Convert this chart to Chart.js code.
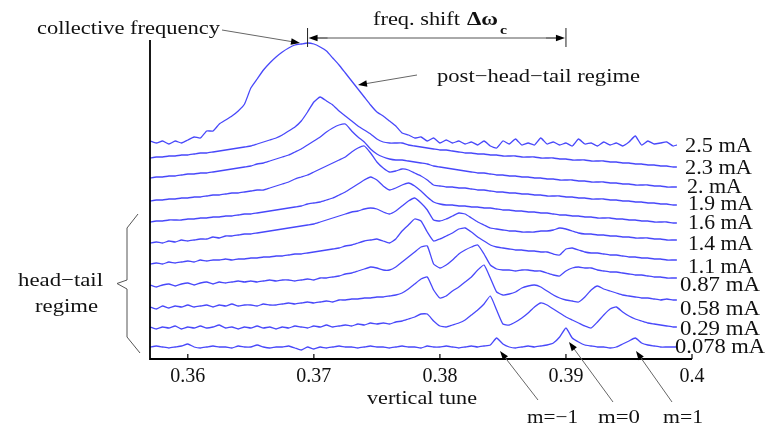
<!DOCTYPE html>
<html><head><meta charset="utf-8">
<script src="https://cdn.jsdelivr.net/npm/chart.js@4.4.1/dist/chart.umd.min.js"></script>
<style>html,body{margin:0;padding:0;background:#fff}canvas{display:block}</style>
</head><body>
<canvas id="c" width="775" height="427"></canvas>
<script>
// vertical tune sampling grid
const tune = [0.3570,0.3575,0.3580,0.3585,0.3590,0.3595,0.3600,0.3605,0.3610,0.3615,
0.3620,0.3625,0.3630,0.3635,0.3640,0.3645,0.3650,0.3655,0.3660,0.3665,
0.3670,0.3675,0.3680,0.3685,0.3690,0.3695,0.3700,0.3705,0.3710,0.3715,
0.3720,0.3725,0.3730,0.3735,0.3740,0.3745,0.3750,0.3755,0.3760,0.3765,
0.3770,0.3775,0.3780,0.3785,0.3790,0.3795,0.3800,0.3805,0.3810,0.3815,
0.3820,0.3825,0.3830,0.3835,0.3840,0.3845,0.3850,0.3855,0.3860,0.3865,
0.3870,0.3875,0.3880,0.3885,0.3890,0.3895,0.3900,0.3905,0.3910,0.3915,
0.3920,0.3925,0.3930,0.3935,0.3940,0.3945,0.3950,0.3955,0.3960,0.3965,
0.3970,0.3975,0.3980,0.3985,0.3988];

const currents = ['2.5 mA','2.3 mA','2. mA','1.9 mA','1.6 mA','1.4 mA','1.1 mA','0.87 mA','0.58 mA','0.29 mA','0.078 mA'];
const tickValues = [0.36,0.37,0.38,0.39,0.4];
const tickLabels = ['0.36','0.37','0.38','0.39','0.4'];

// stacked spectra (arbitrary units, offset per beam current)
const s25 = [218,216,218,215,218,216,219,222,221,228,228,235,239,243,248,255,271,280,289,296,
302,307,311,314,315,316,315,312,308,301,294,286,278,270,262,254,247,243,238,233,
226,224,221,222,218,221,216,219,216,218,215,217,214,218,213,211,218,215,220,214,
216,214,221,215,217,214,216,213,220,215,216,213,217,214,216,213,217,223,214,218,
215,216,217,213,214];
const s23 = [201,202,202,203,203,204,204,205,206,206,207,208,209,210,211,212,213,215,217,219,
221,224,228,232,238,247,257,262,258,254,248,243,238,233,229,225,220,217,216,216,
216,214,213,212,211,210,209,209,208,207,206,206,205,205,204,204,203,203,203,202,
202,202,201,201,201,200,200,199,199,199,198,198,198,197,197,196,196,195,195,194,
194,193,193,192,192];
const s20 = [181,182,182,183,183,184,185,185,186,186,187,188,189,190,191,192,193,195,196,198,
200,202,204,207,210,214,218,222,227,231,234,235,228,222,217,210,205,202,200,199,
199,198,197,196,195,193,192,191,190,189,188,187,186,186,185,184,184,183,183,182,
182,181,181,180,180,179,179,179,178,178,177,177,177,176,176,175,175,174,174,174,
173,173,172,172,172];
const s19 = [158,159,159,160,160,161,161,162,162,163,164,164,165,166,166,167,168,169,169,171,
173,175,177,180,182,184,187,190,193,196,199,202,207,211,213,206,197,191,187,188,
190,189,186,183,179,174,173,172,172,171,171,170,169,169,168,167,167,166,166,165,
165,164,164,163,163,163,162,162,161,161,160,160,160,159,159,158,158,157,157,156,
156,155,155,154,154];
const s16 = [137,138,138,139,139,139,140,140,141,141,142,142,143,143,144,145,145,146,147,148,
149,150,151,152,153,155,156,157,159,161,164,167,171,175,179,182,179,173,169,171,
174,176,173,168,162,157,155,154,154,153,153,152,152,151,151,150,149,149,148,148,
147,147,146,146,145,144,144,143,143,142,142,141,141,141,140,140,139,139,138,138,
137,137,137,136,136];
const s14 = [116,117,116,118,117,119,118,119,120,120,122,121,123,123,124,125,125,126,127,128,
129,130,131,132,133,134,135,137,139,141,143,145,147,148,150,151,150,147,145,148,
153,158,161,156,149,139,138,140,143,146,145,141,137,134,131,130,129,128,128,127,
127,127,128,128,129,131,130,128,126,125,125,124,124,123,123,122,122,121,121,121,
120,120,119,119,119];
const s11 = [95,96,95,97,96,97,98,97,99,98,99,99,100,99,100,100,101,101,102,102,
103,103,104,105,105,106,107,108,109,110,111,113,114,116,118,119,120,118,116,120,
128,134,140,138,127,118,120,123,126,130,131,127,122,118,114,112,111,110,109,109,
108,108,107,107,105,104,110,111,109,107,106,106,105,104,104,103,102,102,101,101,
100,100,99,99,99];
const s087 = [74,72,74,75,73,75,76,74,76,77,75,77,76,77,78,77,78,77,78,79,
78,79,79,78,79,80,79,81,81,82,83,85,86,88,90,92,91,89,89,92,
97,102,107,112,113,95,91,94,99,105,109,112,114,105,94,90,89,89,88,89,
89,88,88,86,84,83,88,91,92,91,91,89,88,87,87,86,85,84,84,83,
82,82,81,81,81];
const s058 = [52,50,53,51,53,52,54,52,53,54,52,54,53,55,53,54,54,53,55,54,
54,55,56,55,56,57,56,57,58,57,59,59,60,60,61,61,62,62,63,64,
66,70,75,80,82,69,61,63,68,72,77,82,89,94,81,67,64,65,67,71,
73,74,72,68,64,61,59,58,57,62,69,73,70,68,66,64,63,62,61,61,
60,59,60,59,59];
const s029 = [32,30,32,31,33,30,32,31,33,31,32,34,31,32,30,32,31,33,31,32,
30,32,31,33,32,31,33,32,34,32,33,34,33,35,34,36,35,36,35,37,
38,40,42,45,45,38,33,32,34,36,39,44,49,55,63,49,35,34,37,41,
46,52,56,54,50,46,42,39,36,33,31,37,44,50,52,47,43,40,38,36,
35,34,33,32,32];
const s0078 = [12,13,12,11,12,13,15,12,11,12,13,12,12,11,13,12,12,14,12,11,
12,12,13,11,9,12,10,12,11,12,13,12,12,11,12,13,12,12,11,12,
13,12,12,11,13,12,12,13,12,11,12,13,12,13,14,21,15,12,11,12,
13,12,13,14,16,22,31,21,17,14,13,12,12,11,12,15,18,21,16,14,
13,12,12,12,12];
const series = [s25,s23,s20,s19,s16,s14,s11,s087,s058,s029,s0078];

// annotation anchors in tune units
const collectiveTune = 0.3695;
const shiftEndTune = 0.39;

const FONT = '"Liberation Serif", "Times New Roman", Times, serif';

function fitText(ctx, txt, x1, x2, base, size, weight) {
  ctx.save();
  ctx.font = (weight || 'normal') + ' ' + size + 'px ' + FONT;
  const w = ctx.measureText(txt).width;
  ctx.translate(x1, base);
  ctx.scale((x2 - x1) / w, 1);
  ctx.textAlign = 'left';
  ctx.textBaseline = 'alphabetic';
  ctx.fillStyle = '#111';
  ctx.fillText(txt, 0, 0);
  ctx.restore();
}
function arrow(ctx, x1, y1, x2, y2) {
  const ang = Math.atan2(y2 - y1, x2 - x1), len = 9, wid = 3.2;
  const c = Math.cos(ang), s = Math.sin(ang);
  ctx.beginPath(); ctx.moveTo(x1, y1); ctx.lineTo(x2 - len * c * 0.7, y2 - len * s * 0.7); ctx.stroke();
  ctx.beginPath(); ctx.moveTo(x2, y2);
  ctx.lineTo(x2 - len * c + wid * s, y2 - len * s - wid * c);
  ctx.lineTo(x2 - len * c - wid * s, y2 - len * s + wid * c);
  ctx.closePath(); ctx.fill();
}

const labelLayout = [
  [685,752,151.5],[685,752,174],[687,742,192.7],[688,753,210],[688,753,229],[688,753,250],
  [688,753,272.7],[680,760,290.7],[680,760,315],[680,760,335],[675,765,353]
];

const annot = {
  id: 'annot',
  afterDraw(chart) {
    const ctx = chart.ctx, a = chart.chartArea, xs = chart.scales.x;
    ctx.save();
    // axes
    ctx.strokeStyle = '#000'; ctx.lineWidth = 1.8;
    ctx.beginPath(); ctx.moveTo(a.left, a.top); ctx.lineTo(a.left, a.bottom); ctx.lineTo(a.right, a.bottom); ctx.stroke();
    ctx.lineWidth = 1.2;
    tickValues.forEach(v => { const p = xs.getPixelForValue(v); ctx.beginPath(); ctx.moveTo(p, a.bottom); ctx.lineTo(p, a.bottom - 5); ctx.stroke(); });

    // current labels
    currents.forEach((t, i) => { const L = labelLayout[i]; fitText(ctx, t, L[0], L[1], L[2], 20); });

    // axis title
    fitText(ctx, 'vertical tune', 367, 477, 404, 18.5);

    // collective frequency
    fitText(ctx, 'collective frequency', 37, 220, 34, 18.6);
    ctx.strokeStyle = '#666'; ctx.fillStyle = '#000'; ctx.lineWidth = 1;
    arrow(ctx, 222, 30, 300, 43);

    // freq shift
    const xl = xs.getPixelForValue(collectiveTune), xr = xs.getPixelForValue(shiftEndTune);
    ctx.strokeStyle = '#222';
    ctx.beginPath(); ctx.moveTo(xl, 28); ctx.lineTo(xl, 47); ctx.moveTo(xr, 28); ctx.lineTo(xr, 47); ctx.stroke();
    ctx.strokeStyle = '#555';
    ctx.beginPath(); ctx.moveTo(xl + 6, 38); ctx.lineTo(xr - 6, 38); ctx.stroke();
    arrow(ctx, xl + 20, 38, xl + 1, 38);
    arrow(ctx, xr - 20, 38, xr - 1, 38);
    fitText(ctx, 'freq. shift', 373, 460, 25, 18.5);
    fitText(ctx, 'Δω', 467, 498, 25, 18.5, 'bold');
    fitText(ctx, 'c', 500, 507, 33.5, 12, 'bold');

    // post-head-tail
    fitText(ctx, 'post\u2212head\u2212tail regime', 437, 640, 81.5, 18.5);
    ctx.strokeStyle = '#666';
    arrow(ctx, 417, 75, 358, 85);

    // head-tail brace
    fitText(ctx, 'head\u2212tail', 18, 103, 286, 19);
    fitText(ctx, 'regime', 35, 98, 312, 19);
    ctx.strokeStyle = '#555'; ctx.lineWidth = 1;
    ctx.beginPath();
    ctx.moveTo(138, 214); ctx.lineTo(127, 228); ctx.lineTo(127, 280); ctx.lineTo(117, 283.5);
    ctx.lineTo(127, 289); ctx.lineTo(127, 337); ctx.lineTo(140, 353);
    ctx.stroke();

    // mode arrows
    ctx.strokeStyle = '#666';
    arrow(ctx, 538, 400, 500, 351);
    arrow(ctx, 613, 402, 569, 342);
    arrow(ctx, 672, 402, 636, 351);
    fitText(ctx, 'm=\u22121', 527, 578, 423, 18.5);
    fitText(ctx, 'm=0', 598, 640, 423, 18.5);
    fitText(ctx, 'm=1', 663, 703, 423, 18.5);
    ctx.restore();
  }
};

const datasets = series.map((vals, k) => ({
  label: currents[k],
  data: tune.map((t, i) => ({ x: t, y: vals[i] })),
  borderColor: 'rgb(72,72,250)',
  borderWidth: 1.3,
  pointRadius: 0,
  tension: 0.15,
  fill: false
}));

new Chart(document.getElementById('c'), {
  type: 'line',
  data: { datasets },
  options: {
    responsive: false,
    devicePixelRatio: 1,
    animation: false,
    layout: { padding: { left: 150, right: 83, top: 40, bottom: 0 } },
    plugins: { legend: { display: false }, tooltip: { enabled: false } },
    scales: {
      x: {
        type: 'linear', min: 0.357, max: 0.4,
        afterBuildTicks: s => { s.ticks = tickValues.map(v => ({ value: v })); },
        afterFit: s => { s.height = 68; },
        grid: { display: false, drawTicks: false },
        border: { display: false },
        ticks: {
          autoSkip: false, maxRotation: 0, padding: 6, color: '#111',
          font: { family: FONT, size: 20 },
          callback: (v, i) => tickLabels[i]
        }
      },
      y: { display: false, min: 0, max: 319 }
    }
  },
  plugins: [annot]
});
</script>
</body></html>
